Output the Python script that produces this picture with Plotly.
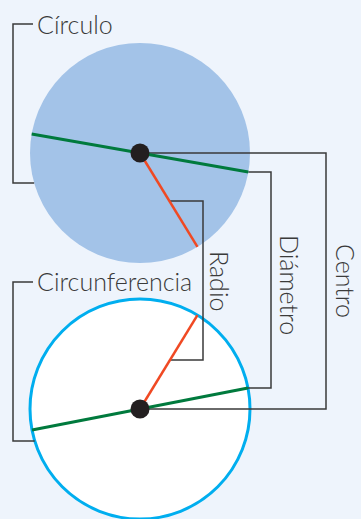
import math
import plotly.graph_objects as go

W, H = 361, 519

# Geometry (pixel units of the drawing)
center_x = [140, 140]
center_y = [153, 409]
radius = [110, 110]
diam_angle = [10, -11]        # degrees, screen coordinates (y down)
rad_angle = [58.5, -58.5]
labels = ["Círculo", "Circunferencia", "Radio", "Diámetro", "Centro"]
label_x = [36, 36, 220, 290, 346]
label_y = [24, 281, 281, 285, 281]
bracket_y = [[24, 183], [282, 441]]
bracket_x = 13
radio_bar_x = 203
radio_bar_y = [201, 360]
diam_bar_x = 271
centro_bar_x = 326

BG = "#eef4fc"
FILL = "#a3c3e8"
GREEN = "#007a3d"
RED = "#f04923"
CYAN = "#00aeef"
DOT = "#231f20"
LINE = "#3a3a3a"
TXT = "#3a3a3a"

fig = go.Figure()

# circles
fig.add_shape(type="circle", xref="x", yref="y",
              x0=center_x[0] - radius[0], x1=center_x[0] + radius[0],
              y0=center_y[0] - radius[0], y1=center_y[0] + radius[0],
              fillcolor=FILL, line=dict(width=0), layer="below")
fig.add_shape(type="circle", xref="x", yref="y",
              x0=center_x[1] - radius[1], x1=center_x[1] + radius[1],
              y0=center_y[1] - radius[1], y1=center_y[1] + radius[1],
              fillcolor="white", line=dict(color=CYAN, width=3), layer="below")

def line(xs, ys, color, width):
    fig.add_trace(go.Scatter(x=xs, y=ys, mode="lines",
                             line=dict(color=color, width=width),
                             hoverinfo="skip", showlegend=False))

def edge_x_left(i, y):
    return center_x[i] - math.sqrt(radius[i] ** 2 - (y - center_y[i]) ** 2)

# brackets for Círculo / Circunferencia
for i in range(2):
    y0, y1 = bracket_y[i]
    line([33, bracket_x, bracket_x, edge_x_left(i, y1)],
         [y0, y0, y1, y1], LINE, 1.5)

# diameter and radius endpoints
d_ends = []
r_ends = []
for i in range(2):
    a = math.radians(diam_angle[i])
    dx, dy = radius[i] * math.cos(a), radius[i] * math.sin(a)
    d_ends.append(((center_x[i] - dx, center_y[i] - dy), (center_x[i] + dx, center_y[i] + dy)))
    b = math.radians(rad_angle[i])
    r_ends.append((center_x[i] + radius[i] * math.cos(b), center_y[i] + radius[i] * math.sin(b)))

# leader lines
line([center_x[0], centro_bar_x, centro_bar_x, center_x[1]],
     [center_y[0], center_y[0], center_y[1], center_y[1]], LINE, 1.5)
line([d_ends[0][1][0], diam_bar_x, diam_bar_x, d_ends[1][1][0]],
     [d_ends[0][1][1], d_ends[0][1][1], d_ends[1][1][1], d_ends[1][1][1]], LINE, 1.5)

def on_radius(i, y):
    b = math.radians(rad_angle[i])
    return center_x[i] + (y - center_y[i]) / math.tan(b)

line([on_radius(0, radio_bar_y[0]), radio_bar_x, radio_bar_x, on_radius(1, radio_bar_y[1])],
     [radio_bar_y[0], radio_bar_y[0], radio_bar_y[1], radio_bar_y[1]], LINE, 1.5)

# diameters and radii
for i in range(2):
    (x0, y0), (x1, y1) = d_ends[i]
    line([x0, x1], [y0, y1], GREEN, 3)
    line([center_x[i], r_ends[i][0]], [center_y[i], r_ends[i][1]], RED, 2.5)

# centres
fig.add_trace(go.Scatter(x=center_x, y=center_y, mode="markers",
                         marker=dict(color=DOT, size=19, line=dict(width=0)),
                         hoverinfo="skip", showlegend=False))

FONT = dict(family="Lato", size=25, color=TXT, weight=300)
for i in range(2):
    fig.add_annotation(x=label_x[i], y=label_y[i], text=labels[i], showarrow=False,
                       xanchor="left", yanchor="middle", font=FONT,
                       bgcolor=BG, borderpad=0)
for i in range(2, 5):
    fig.add_annotation(x=label_x[i], y=label_y[i], text=labels[i], showarrow=False,
                       xanchor="center", yanchor="middle", textangle=90, font=FONT)

fig.update_xaxes(range=[0, W], visible=False, fixedrange=True)
fig.update_yaxes(range=[H, 0], visible=False, fixedrange=True)
fig.update_layout(width=W, height=H, margin=dict(l=0, r=0, t=0, b=0),
                  paper_bgcolor=BG, plot_bgcolor=BG, showlegend=False)

fig.write_html("out.html", config={"displayModeBar": False},
               post_script="document.body.style.margin='0';document.body.style.overflow='hidden';")
